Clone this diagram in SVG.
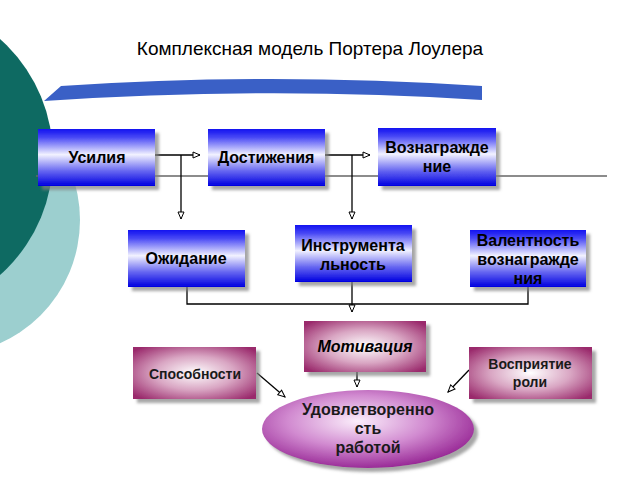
<svg xmlns="http://www.w3.org/2000/svg" width="640" height="480" viewBox="0 0 640 480">
<style>
.t{font-family:"Liberation Sans",Arial,sans-serif;fill:#000;text-anchor:middle}
.b{font-weight:bold;font-size:16px}
.p{font-weight:bold;font-size:14px;fill:#1a1a1a}
.e{font-weight:bold;font-size:16px;fill:#1a1a1a}
.conn{stroke:#000;stroke-width:1.3;fill:none}
</style>
<defs>
<linearGradient id="blue" x1="0" y1="0" x2="0" y2="1">
<stop offset="0" stop-color="#1010f0"/>
<stop offset="0.15" stop-color="#4a4af5"/>
<stop offset="0.45" stop-color="#f2f2ff"/>
<stop offset="0.75" stop-color="#6060f0"/>
<stop offset="1" stop-color="#0000e0"/>
</linearGradient>
<radialGradient id="pink" cx="0.5" cy="0.5" r="0.65">
<stop offset="0" stop-color="#ffffff"/>
<stop offset="0.5" stop-color="#d9a6c3"/>
<stop offset="1" stop-color="#9a2a6c"/>
</radialGradient>
<radialGradient id="purple" cx="0.45" cy="0.4" r="0.6">
<stop offset="0" stop-color="#fbeefb"/>
<stop offset="0.55" stop-color="#d18ad0"/>
<stop offset="1" stop-color="#9a2c98"/>
</radialGradient>
<filter id="sh" x="-10%" y="-10%" width="130%" height="140%">
<feDropShadow dx="4" dy="4" stdDeviation="1.5" flood-color="#808080" flood-opacity="0.7"/>
</filter>
<marker id="ar" markerWidth="10" markerHeight="10" refX="8" refY="4" orient="auto" markerUnits="userSpaceOnUse">
<path d="M1,1 L8,4 L1,7 Z" fill="#fff" stroke="#000" stroke-width="1"/>
</marker>
</defs>
<rect width="640" height="480" fill="#fff"/>
<circle cx="-55" cy="220" r="135" fill="#9ccfcf"/>
<circle cx="-105" cy="157" r="158" fill="#0e6a62"/>
<path d="M44,101 L61,86 Q270,72 482,86 L482,100 Q270,86 44,101 Z" fill="#3a60c6"/>
<text class="t" x="310" y="55" style="font-size:19px">Комплексная модель Портера Лоулера</text>
<line x1="36" y1="176" x2="607" y2="176" stroke="#666" stroke-width="1.3"/>
<g id="connectors">
<path class="conn" d="M155,155 H200" marker-end="url(#ar)"/>
<path class="conn" d="M181,155 V219" marker-end="url(#ar)"/>
<path class="conn" d="M325,155 H370" marker-end="url(#ar)"/>
<path class="conn" d="M352,155 V219" marker-end="url(#ar)"/>
<path class="conn" d="M187,287 V304 H528 V287"/>
<path class="conn" d="M352,282 V312" marker-end="url(#ar)"/>
<path class="conn" d="M357,372 V387" marker-end="url(#ar)"/>
<path class="conn" d="M257,373 L285,397" marker-end="url(#ar)"/>
<path class="conn" d="M469,370 L448,392" marker-end="url(#ar)"/>
</g>
<g id="n-usiliya"><rect x="38" y="129" width="117" height="57" fill="url(#blue)" filter="url(#sh)"/><text class="t b" x="97" y="163">Усилия</text></g>
<g id="n-dostizheniya"><rect x="208" y="129" width="117" height="57" fill="url(#blue)" filter="url(#sh)"/><text class="t b" x="266" y="163">Достижения</text></g>
<g id="n-voznagrazhdenie"><rect x="378" y="128" width="118" height="58" fill="url(#blue)" filter="url(#sh)"/><text class="t b" x="437" y="153">Вознагражде</text><text class="t b" x="437" y="172">ние</text></g>
<g id="n-ozhidanie"><rect x="128" y="230" width="117" height="57" fill="url(#blue)" filter="url(#sh)"/><text class="t b" x="186" y="264">Ожидание</text></g>
<g id="n-instrumentalnost"><rect x="295" y="225" width="117" height="57" fill="url(#blue)" filter="url(#sh)"/><text class="t b" x="353" y="251">Инструмента</text><text class="t b" x="353" y="270">льность</text></g>
<g id="n-valentnost"><rect x="470" y="230" width="116" height="57" fill="url(#blue)" filter="url(#sh)"/><text class="t b" x="528" y="246">Валентность</text><text class="t b" x="528" y="265">вознагражде</text><text class="t b" x="528" y="284">ния</text></g>
<g id="n-motivaciya"><rect x="304" y="321" width="122" height="51" fill="url(#pink)" filter="url(#sh)"/><text class="t b" x="365" y="352" style="font-style:italic">Мотивация</text></g>
<g id="n-sposobnosti"><rect x="133" y="347" width="123" height="52" fill="url(#pink)" filter="url(#sh)"/><text class="t p" x="195" y="379">Способности</text></g>
<g id="n-vospriyatie"><rect x="469" y="347" width="123" height="52" fill="url(#pink)" filter="url(#sh)"/><text class="t p" x="530" y="369">Восприятие</text><text class="t p" x="530" y="387">роли</text></g>
<g id="n-udovletvorennost"><ellipse cx="368" cy="429" rx="106" ry="39" fill="url(#purple)" filter="url(#sh)"/><text class="t e" x="368" y="415">Удовлетворенно</text><text class="t e" x="368" y="434">сть</text><text class="t e" x="368" y="453">работой</text></g>
</svg>
